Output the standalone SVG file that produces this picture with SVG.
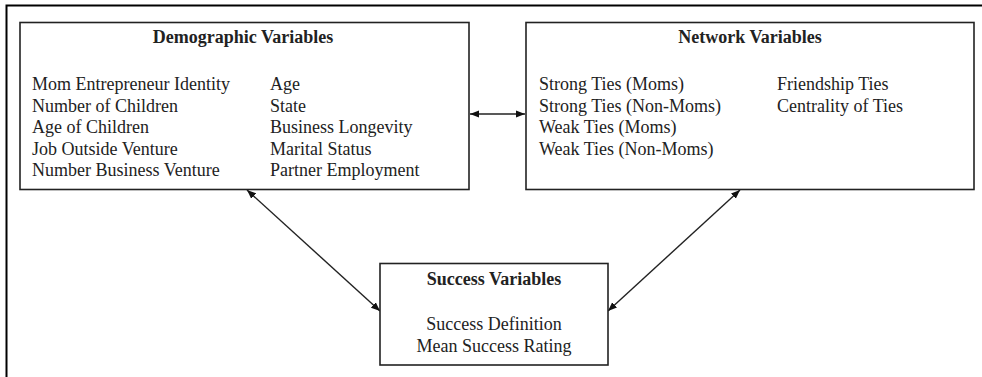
<svg xmlns="http://www.w3.org/2000/svg" width="982" height="377" viewBox="0 0 982 377">
<style>
.box{fill:#fff;stroke:#222;stroke-width:1.6}
.t{font-family:"Liberation Serif","Times New Roman",serif;font-size:18px;fill:#222}
.b{font-weight:bold;text-anchor:middle}
.c{text-anchor:middle}
.conn{stroke:#222;stroke-width:1.4;fill:none;marker-start:url(#ah);marker-end:url(#ah)}
</style>
<defs>
<marker id="ah" viewBox="0 0 10 10" refX="10" refY="5" markerWidth="9" markerHeight="9" markerUnits="userSpaceOnUse" orient="auto-start-reverse">
<path d="M0,1 L10,5 L0,9 Z" fill="#111"/>
</marker>
</defs>
<rect width="982" height="377" fill="#fff"/>
<path d="M6.5,377 V5.5 H982" fill="none" stroke="#000" stroke-width="2"/>
<g id="connectors">
<line class="conn" x1="470" y1="114" x2="525" y2="114"/>
<line class="conn" x1="247" y1="190" x2="380" y2="311"/>
<line class="conn" x1="740" y1="190" x2="608" y2="311"/>
</g>
<g id="demographic">
<rect class="box" x="20" y="22.5" width="449" height="167"/>
<text class="t b" x="243" y="43">Demographic Variables</text>
<text class="t" x="32" y="90">Mom Entrepreneur Identity</text>
<text class="t" x="32" y="111.5">Number of Children</text>
<text class="t" x="32" y="133">Age of Children</text>
<text class="t" x="32" y="154.5">Job Outside Venture</text>
<text class="t" x="32" y="176">Number Business Venture</text>
<text class="t" x="270" y="90">Age</text>
<text class="t" x="270" y="111.5">State</text>
<text class="t" x="270" y="133">Business Longevity</text>
<text class="t" x="270" y="154.5">Marital Status</text>
<text class="t" x="270" y="176">Partner Employment</text>
</g>
<g id="network">
<rect class="box" x="526" y="22.5" width="448" height="167"/>
<text class="t b" x="750" y="43">Network Variables</text>
<text class="t" x="539" y="90">Strong Ties (Moms)</text>
<text class="t" x="539" y="111.5">Strong Ties (Non-Moms)</text>
<text class="t" x="539" y="133">Weak Ties (Moms)</text>
<text class="t" x="539" y="154.5">Weak Ties (Non-Moms)</text>
<text class="t" x="777" y="90">Friendship Ties</text>
<text class="t" x="777" y="111.5">Centrality of Ties</text>
</g>
<g id="success">
<rect class="box" x="380" y="263.5" width="228" height="101.5"/>
<text class="t b" x="494" y="285">Success Variables</text>
<text class="t c" x="494" y="330">Success Definition</text>
<text class="t c" x="494" y="352">Mean Success Rating</text>
</g>
</svg>
